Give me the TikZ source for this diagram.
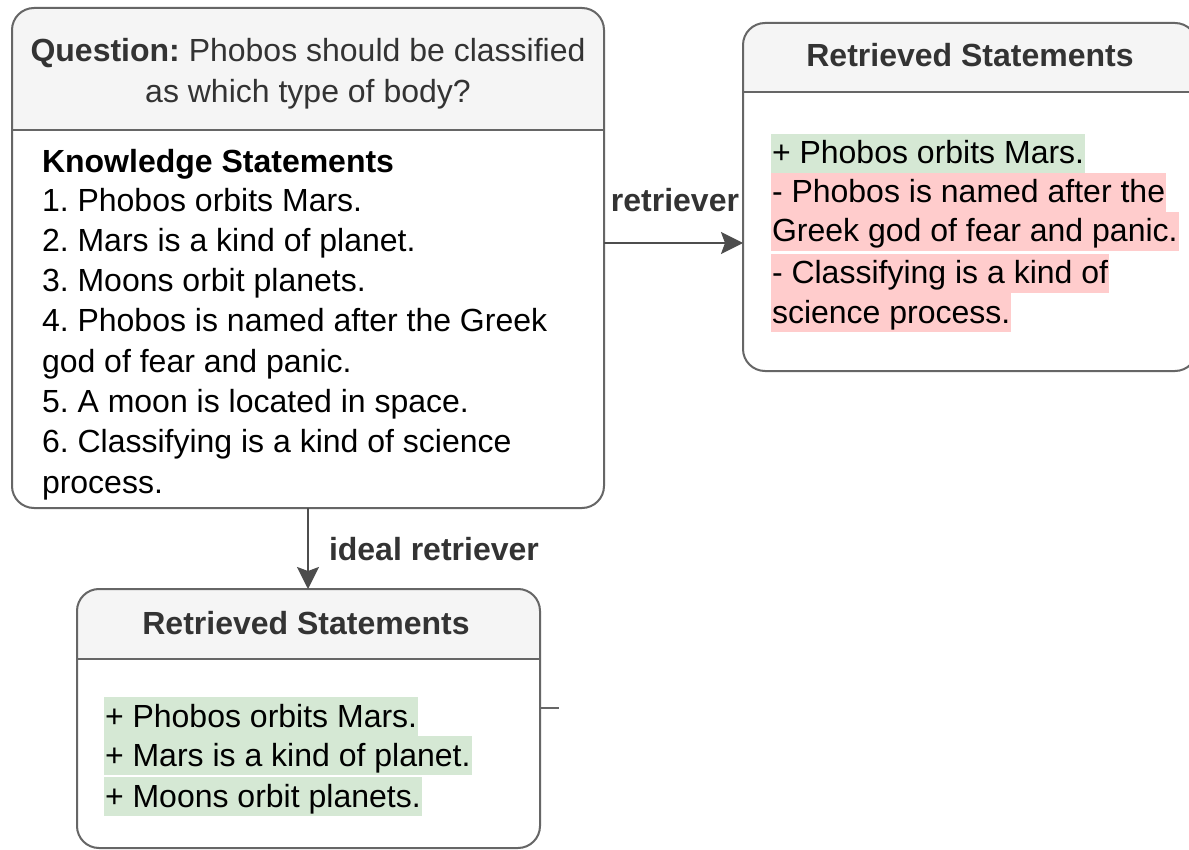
\documentclass[tikz,border=0pt]{standalone}
\usepackage{fontspec}
\setmainfont{Liberation Sans}
\usetikzlibrary{arrows.meta}
\definecolor{edge}{HTML}{666666}
\definecolor{headfill}{HTML}{F5F5F5}
\definecolor{hlgreen}{HTML}{D5E8D4}
\definecolor{hlred}{HTML}{FFCCCC}
\definecolor{headtext}{HTML}{333333}
\definecolor{arrowgray}{HTML}{4D4D4D}
\frenchspacing
\begin{document}
\begin{tikzpicture}[x=0.5pt,y=-0.5pt,
  every node/.style={font=\fontsize{16}{19.5}\selectfont, inner sep=0pt, outer sep=0pt},
  panel/.style={draw=edge, line width=1pt, fill=white, rounded corners=11pt,
    path picture={
      \fill[headfill, sharp corners] (path picture bounding box.north west) rectangle ([yshift=-#1]path picture bounding box.north east);
      \draw[edge, line width=1pt, sharp corners] ([yshift=-#1]path picture bounding box.north west) -- ([yshift=-#1]path picture bounding box.north east);
    }},
  head/.style={text=headtext, anchor=base, font=\fontsize{16}{19.5}\selectfont\bfseries},
  body/.style={anchor=base west, text=black},
  hl/.style={fill=#1, anchor=north west, text height=15pt, text depth=4.5pt, inner xsep=0.5pt, inner ysep=0pt},
  arr/.style={draw=arrowgray, line width=1pt, -{Stealth[length=11pt, width=11pt, inset=2pt]}},
  lbl/.style={text=headtext, font=\fontsize{16}{19.5}\selectfont\bfseries, anchor=base},
]
\clip (0,0) rectangle (1189,850);
\fill[white] (0,0) rectangle (1189,850);

% main box
\node[panel=61pt, minimum width=296pt, minimum height=250pt] (main) at (308,258) {};
\node[text=headtext, anchor=base] (q1) at (308,62) {\textbf{Question:} Phobos should be classified};
\node[text=headtext, anchor=base] (q2) at (308,103) {as which type of body?};
\node[body, font=\fontsize{16}{19.5}\selectfont\bfseries] (ks) at (42,173) {Knowledge Statements};
\node[body] (k1) at (42,212) {1. Phobos orbits Mars.};
\node[body] (k2) at (42,252) {2. Mars is a kind of planet.};
\node[body] (k3) at (42,292) {3. Moons orbit planets.};
\node[body] (k4) at (42,332) {4. Phobos is named after the Greek};
\node[body] (k4b) at (42,372) {god of fear and panic.};
\node[body] (k5) at (42,412) {5. A moon is located in space.};
\node[body] (k6) at (42,452) {6. Classifying is a kind of science};
\node[body] (k6b) at (42,493) {process.};

% top-right box
\node[panel=34.5pt, minimum width=227pt, minimum height=174pt] (tr) at (970,197) {};
\node[head] (trh) at (970,67) {Retrieved Statements};
\node[hl=hlgreen] (r1) at (771,134) {+ Phobos orbits Mars.};
\node[hl=hlred] (r2) at (771,173) {- Phobos is named after the};
\node[hl=hlred] (r2b) at (771,212) {Greek god of fear and panic.};
\node[hl=hlred] (r3) at (771,254) {- Classifying is a kind of};
\node[hl=hlred] (r3b) at (771,293) {science process.};

% bottom box
\node[panel=35pt, minimum width=231.5pt, minimum height=129.5pt] (bot) at (308.5,718.5) {};
\node[head] (bh) at (306,634) {Retrieved Statements};
\node[hl=hlgreen] (b1) at (104,697) {+ Phobos orbits Mars.};
\node[hl=hlgreen] (b2) at (104,736) {+ Mars is a kind of planet.};
\node[hl=hlgreen] (b3) at (104,777) {+ Moons orbit planets.};

% connectors
\coordinate (ra) at (0,243);
\draw[arr] (main.east |- ra) -- (tr.west |- ra);
\node[lbl] (lr) at (675,212) {retriever};
\draw[arr] (main.south) -- (main.south |- bot.north);
\node[lbl, anchor=base west] (li) at (329,560) {ideal retriever};
\coordinate (stub) at (559,708);
\draw[edge, line width=1pt] (bot.east |- stub) -- (stub);
\end{tikzpicture}
\end{document}
